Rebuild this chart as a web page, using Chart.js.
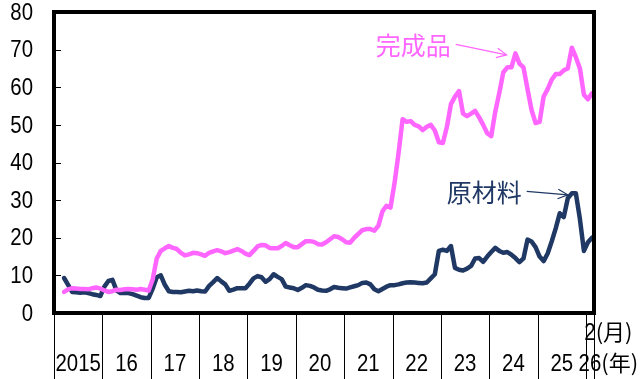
<!DOCTYPE html>
<html lang="ja">
<head>
<meta charset="utf-8">
<script src="https://cdn.jsdelivr.net/npm/chart.js@4"></script>
<style>
  html, body { margin: 0; padding: 0; background: #fff; }
  #wrap { width: 640px; height: 379px; }
</style>
</head>
<body>
<div id="wrap"><canvas id="priceChart" width="640" height="379"></canvas></div>
<script>
// 月次カテゴリ: 2015年1月〜2026年2月
const months = [];
for (let yr = 2015; yr <= 2026; yr++) {
    for (let m = 1; m <= 12; m++) {
        if (yr === 2026 && m > 2) break;
        months.push(`${yr}/${m}`);
    }
}

const yearLabels = ['2015', '16', '17', '18', '19', '20', '21', '22', '23', '24', '25', '26'];
const yTicks = [0, 10, 20, 30, 40, 50, 60, 70, 80];

// 完成品
const finished = [
    null, null, 5.6, 6.3, 6.6, 6.5, 6.4, 6.4, 6.3, 6.6, 6.8, 6.5,
    6.0, 5.6, 5.8, 6.2, 6.1, 6.3, 6.4, 6.3, 6.2, 6.4, 6.2, 6.0,
    9.0, 14.5, 16.5, 17.2, 17.8, 17.3, 17.0, 16.0, 15.3, 15.6, 16.0, 15.9,
    15.6, 15.2, 16.0, 16.4, 16.7, 16.4, 15.9, 16.2, 16.6, 17.0, 16.5, 15.8,
    15.4, 16.5, 17.7, 18.1, 18.0, 17.3, 17.2, 17.2, 17.8, 18.6, 18.0, 17.5,
    17.5, 18.3, 19.1, 19.1, 18.9, 18.3, 18.2, 18.8, 19.6, 20.4, 20.2, 19.6,
    18.8, 18.7, 20.0, 21.0, 22.0, 22.3, 22.3, 21.9, 23.2, 27.0, 28.5, 28.0,
    34.5, 42.5, 51.5, 50.8, 51.0, 50.0, 49.6, 48.6, 49.5, 50.0, 48.5, 45.4,
    45.2, 49.5, 55.5, 57.5, 59.0, 53.0, 52.3, 53.0, 53.7, 52.0, 50.0, 47.8,
    47.0, 53.5, 58.5, 64.0, 65.3, 65.3, 69.0, 66.3, 65.3, 59.5, 54.0, 50.5,
    50.8, 57.5, 59.5, 62.0, 63.5, 63.5, 64.5, 65.0, 70.5, 68.0, 65.0, 58.0,
    56.8, 58.4
];

// 原材料
const material = [
    null, null, 9.3, 7.5, 5.6, 5.5, 5.4, 5.5, 5.3, 5.0, 4.8, 4.5,
    7.0, 8.5, 8.8, 6.0, 5.3, 5.4, 5.3, 5.0, 4.6, 4.2, 4.0, 4.0,
    6.5, 9.5, 10.0, 7.5, 5.8, 5.6, 5.6, 5.5, 5.7, 5.9, 5.8, 6.0,
    5.8, 5.7, 7.2, 8.2, 9.3, 8.4, 7.6, 5.9, 6.2, 6.6, 6.6, 6.6,
    7.8, 9.2, 9.8, 9.5, 8.3, 9.0, 10.3, 9.6, 9.0, 7.0, 6.8, 6.6,
    6.1, 6.7, 7.4, 7.2, 6.8, 6.2, 6.0, 5.9, 6.3, 6.9, 6.7, 6.6,
    6.5, 6.8, 7.1, 7.4, 8.0, 8.1, 7.6, 6.3, 5.8, 6.4, 7.0, 7.4,
    7.4, 7.6, 7.9, 8.1, 8.2, 8.1, 8.0, 7.9, 8.1, 9.2, 10.3, 16.5,
    16.8, 16.5, 17.8, 12.0, 11.5, 11.3, 11.8, 12.5, 14.5, 14.6, 13.6, 15.0,
    16.2, 17.3, 16.5, 16.0, 16.2, 15.5, 14.6, 13.5, 14.5, 19.5, 19.0, 17.5,
    15.0, 13.8, 15.8, 19.0, 22.5, 26.5, 25.5, 30.5, 31.8, 31.8, 25.0, 16.5,
    18.8, 20.0
];

const PINK = '#FF66FF';
const NAVY = '#1F3864';
const DIGITS = "'Liberation Sans', Arial, sans-serif";
const JP = "'Noto Sans CJK JP', 'Noto Sans', sans-serif";

// 系列名ラベルと矢印（カテゴリ位置, 値）
const callouts = [
    { text: '完成品', color: PINK, from: [99.2, 71.4], to: [111.8, 68.6] },
    { text: '原材料', color: NAVY, from: [116.8, 32.3], to: [127.0, 31.4] }
];

// 細身の数字（横方向を詰めて描く）
const narrowText = (ctx, text, x, y, align) => {
    ctx.save();
    ctx.translate(x, y);
    ctx.scale(0.85, 1);
    ctx.font = `24px ${DIGITS}`;
    ctx.textAlign = align;
    ctx.textBaseline = 'middle';
    ctx.fillText(text, 0, 0);
    ctx.restore();
    ctx.font = `24px ${DIGITS}`;
    return ctx.measureText(text).width * 0.85;
};

const arrowHead = (ctx, x0, y0, x1, y1, len) => {
    const ang = Math.atan2(y1 - y0, x1 - x0);
    ctx.beginPath();
    ctx.moveTo(x1 - len * Math.cos(ang - 0.45), y1 - len * Math.sin(ang - 0.45));
    ctx.lineTo(x1, y1);
    ctx.lineTo(x1 - len * Math.cos(ang + 0.45), y1 - len * Math.sin(ang + 0.45));
    ctx.stroke();
};

const frameAndAxis = {
    id: 'frameAndAxis',
    afterDatasetsDraw(chart) {
        const { ctx, chartArea: a, scales: { x, y } } = chart;
        ctx.save();
        ctx.fillStyle = '#000';
        ctx.strokeStyle = '#000';

        // 縦軸: 内向きの目盛りとラベル
        ctx.lineWidth = 1;
        yTicks.forEach(v => {
            const py = Math.round(y.getPixelForValue(v)) + 0.5;
            ctx.beginPath();
            ctx.moveTo(a.left, py);
            ctx.lineTo(a.left + 7, py);
            ctx.stroke();
            narrowText(ctx, String(v), a.left - 21, y.getPixelForValue(v) + 1, 'right');
        });

        // 枠
        ctx.lineWidth = 4;
        ctx.strokeRect(a.left, a.top, a.right - a.left, a.bottom - a.top);

        // 年の区切り線と年ラベル
        const half = (x.getPixelForValue(1) - x.getPixelForValue(0)) / 2;
        const bounds = yearLabels.map((_, k) => x.getPixelForValue(k * 12) - half);
        bounds.push(x.getPixelForValue(months.length - 1) + half);

        ctx.lineWidth = 1;
        bounds.forEach(bx => {
            const px = Math.round(bx) + 0.5;
            ctx.beginPath();
            ctx.moveTo(px, a.bottom + 2);
            ctx.lineTo(px, chart.height);
            ctx.stroke();
        });

        const widths = yearLabels.map((lbl, k) => {
            const cx = (bounds[k] + bounds[k + 1]) / 2;
            return narrowText(ctx, lbl, cx, 364, 'center');
        });

        // 最終月と単位
        const lastX = (bounds[bounds.length - 2] + bounds[bounds.length - 1]) / 2;
        const w2 = narrowText(ctx, '2', lastX, 333, 'center');
        ctx.font = `22px ${JP}`;
        ctx.textAlign = 'left';
        ctx.textBaseline = 'middle';
        ctx.fillText('(月)', lastX + w2 / 2, 332);
        ctx.fillText('(年)', lastX + widths[widths.length - 1] / 2, 363);

        // 系列名と矢印
        callouts.forEach(c => {
            const x0 = x.getPixelForValue(c.from[0]);
            const y0 = y.getPixelForValue(c.from[1]);
            const x1 = x.getPixelForValue(c.to[0]);
            const y1 = y.getPixelForValue(c.to[1]);
            ctx.strokeStyle = c.color;
            ctx.fillStyle = c.color;
            ctx.lineWidth = 1.2;
            ctx.beginPath();
            ctx.moveTo(x0, y0);
            ctx.lineTo(x1, y1);
            ctx.stroke();
            arrowHead(ctx, x0, y0, x1, y1, 11);
            ctx.font = `25px ${JP}`;
            ctx.textAlign = 'right';
            ctx.textBaseline = 'middle';
            ctx.fillText(c.text, x0 - 5, y0 + 1);
        });

        ctx.restore();
    }
};

new Chart(document.getElementById('priceChart'), {
    type: 'line',
    data: {
        labels: months,
        datasets: [
            {
                label: '完成品',
                data: finished,
                borderColor: PINK,
                borderWidth: 4.5,
                pointRadius: 0,
                tension: 0,
                borderJoinStyle: 'round',
                borderCapStyle: 'round',
                order: 0
            },
            {
                label: '原材料',
                data: material,
                borderColor: NAVY,
                borderWidth: 4.5,
                pointRadius: 0,
                tension: 0,
                borderJoinStyle: 'round',
                borderCapStyle: 'round',
                order: 1
            }
        ]
    },
    options: {
        responsive: false,
        animation: false,
        layout: { padding: { left: 0, right: 46, top: 12, bottom: 66 } },
        plugins: {
            legend: { display: false },
            tooltip: { enabled: false }
        },
        scales: {
            x: {
                type: 'category',
                offset: true,
                display: false
            },
            y: {
                min: 0,
                max: 80,
                border: { display: false },
                grid: { display: false, drawTicks: false },
                afterFit: (s) => { s.width = 54; },
                ticks: { stepSize: 10, display: false }
            }
        }
    },
    plugins: [frameAndAxis]
});
</script>
</body>
</html>
